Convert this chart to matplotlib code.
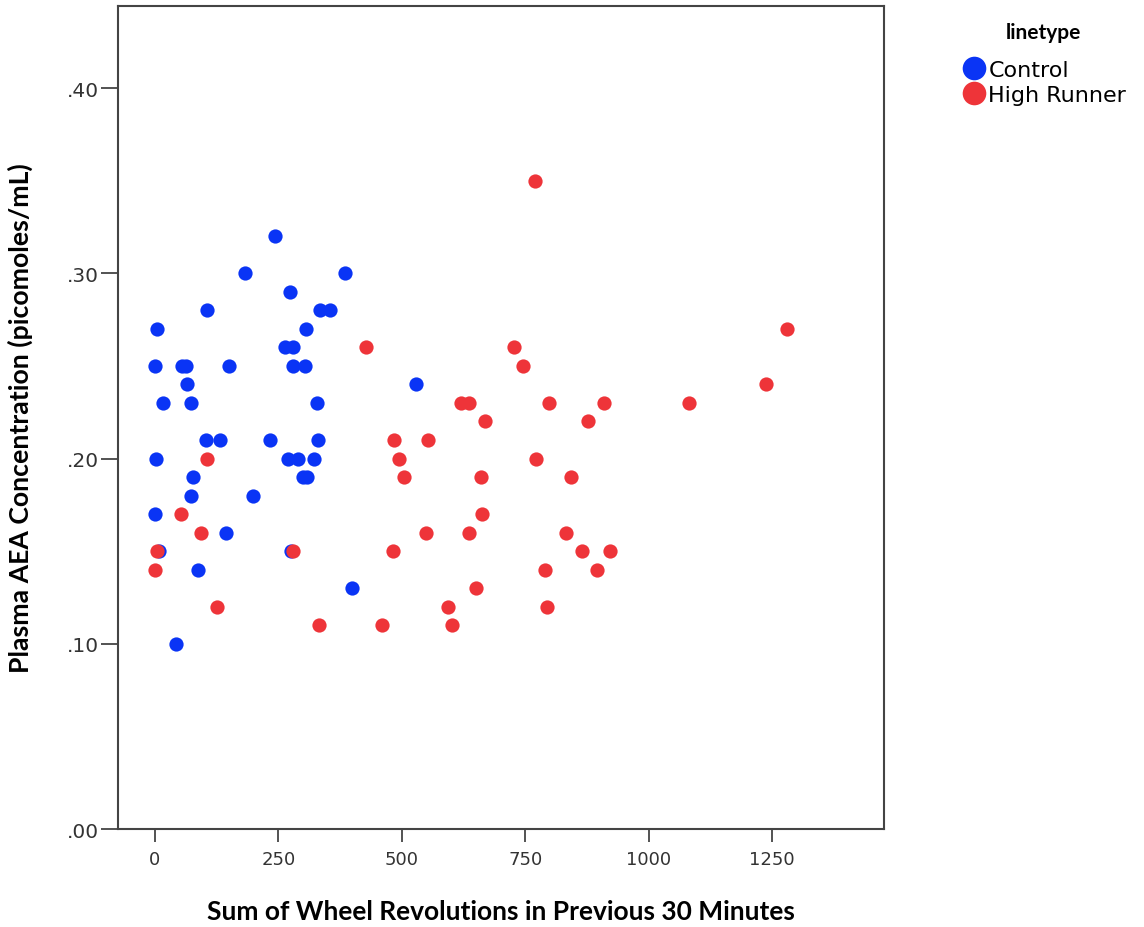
#!/usr/bin/env python3
"""Scatter of plasma AEA concentration vs wheel revolutions, by line type."""

import matplotlib
matplotlib.use("Agg")
import matplotlib.pyplot as plt
from matplotlib.lines import Line2D

# Control mice: wheel revolutions and AEA concentration
control_x = [244, 182, 386, 273, 106, 334, 355, 4, 307, 263, 279, 0, 55, 62,
             151, 279, 304, 64, 529, 16, 73, 329, 103, 132, 234, 330, 3, 270,
             290, 322, 78, 299, 309, 73, 198, 0, 144, 8, 276, 88, 400, 42]
control_y = [.32, .30, .30, .29, .28, .28, .28, .27, .27, .26, .26, .25, .25, .25,
             .25, .25, .25, .24, .24, .23, .23, .23, .21, .21, .21, .21, .20, .20,
             .20, .20, .19, .19, .19, .18, .18, .17, .16, .15, .15, .14, .13, .10]

# High Runner mice
runner_x = [428, 485, 105, 494, 504, 53, 93, 5, 280, 483, 0, 125, 333, 460,
            770, 727, 745, 620, 636, 799, 909, 668, 878, 554, 773, 660, 842,
            662, 550, 637, 833, 866, 922, 790, 896, 650, 594, 795, 602,
            1280, 1238, 1081]
runner_y = [.26, .21, .20, .20, .19, .17, .16, .15, .15, .15, .14, .12, .11, .11,
            .35, .26, .25, .23, .23, .23, .23, .22, .22, .21, .20, .19, .19,
            .17, .16, .16, .16, .15, .15, .14, .14, .13, .12, .12, .11,
            .27, .24, .23]

x_ticks = [0, 250, 500, 750, 1000, 1250]
y_ticks = [0.0, 0.1, 0.2, 0.3, 0.4]
y_tick_labels = [".00", ".10", ".20", ".30", ".40"]

blue = "#0a34f5"
red = "#ee3439"

fig = plt.figure(figsize=(11.44, 9.28), dpi=100)
ax = fig.add_axes([0.1031, 0.1056, 0.6696, 0.8869])

ax.scatter(control_x, control_y, s=105, color=blue, linewidths=0, zorder=3)
ax.scatter(runner_x, runner_y, s=105, color=red, linewidths=0, zorder=4)

ax.set_xlim(-75, 1477)
ax.set_ylim(0, 0.4443)
ax.set_xticks(x_ticks)
ax.set_xticklabels([str(t) for t in x_ticks], fontsize=13, color="#333333")
ax.set_yticks(y_ticks)
ax.set_yticklabels(y_tick_labels, fontsize=14.5, color="#333333")
ax.tick_params(axis="x", length=9, width=1.3, color="#444444", pad=6)
ax.tick_params(axis="y", length=12, width=1.3, color="#444444", pad=2)
for sp in ax.spines.values():
    sp.set_color("#444444")
    sp.set_linewidth(1.5)

ax.set_xlabel("Sum of Wheel Revolutions in Previous 30 Minutes",
              fontsize=19, fontweight="bold", family="Lato")
ax.set_ylabel("Plasma AEA Concentration (picomoles/mL)",
              fontsize=19.2, fontweight="bold", family="Lato")
# place axis titles where the reference has them (axes fraction coords)
ax.xaxis.set_label_coords(0.5, -0.085)
ax.yaxis.set_label_coords(-0.111, 0.5)

handles = [
    Line2D([], [], marker="o", linestyle="", markersize=17, color=blue, markeredgewidth=0),
    Line2D([], [], marker="o", linestyle="", markersize=17, color=red, markeredgewidth=0),
]
leg = fig.legend(handles, ["Control", "High Runner"], loc="upper left",
                 bbox_to_anchor=(0.832, 0.985), frameon=False, fontsize=16,
                 title="linetype",
                 title_fontproperties={"weight": "bold", "size": 15, "family": "Lato"},
                 handletextpad=0.05, labelspacing=0.22, handlelength=1.2,
                 borderaxespad=0)
leg._legend_box.align = "center"
leg._legend_box.sep = 13

fig.savefig("out.png", dpi=100)
